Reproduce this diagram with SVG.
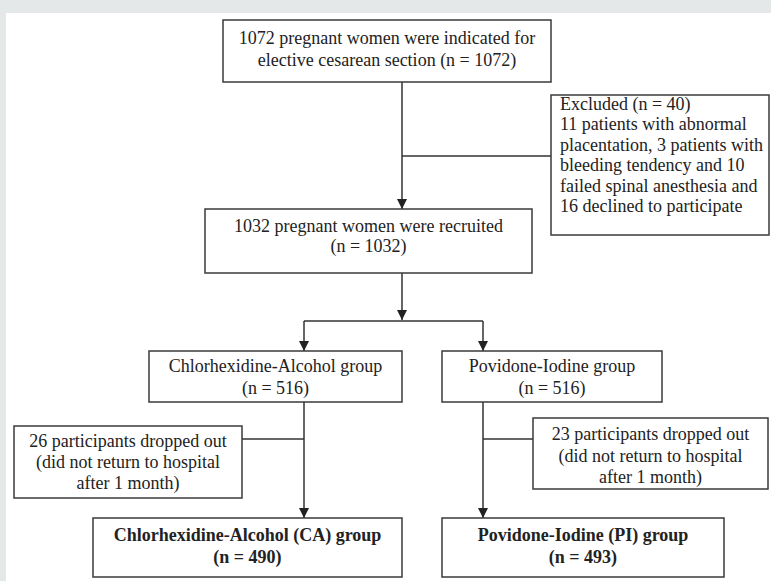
<svg xmlns="http://www.w3.org/2000/svg" width="771" height="581" viewBox="0 0 771 581">
<style>
.box{fill:#fff;stroke:#3a3a3a;stroke-width:1.5}
.t{font-family:"Liberation Serif","Times New Roman",serif;font-size:18px;fill:#222}
.c{text-anchor:middle}
.b{font-weight:bold}
.ln{fill:none;stroke:#333;stroke-width:1.5}
</style>
<defs>
<marker id="ah" markerUnits="userSpaceOnUse" markerWidth="10" markerHeight="10" viewBox="0 0 10 10" refX="10" refY="5" orient="auto">
<path d="M0,0 L10,5 L0,10 Z" fill="#222"/>
</marker>
</defs>
<rect x="0" y="0" width="771" height="581" fill="#e4e8e9"/>
<rect x="6" y="13" width="765" height="568" fill="#fff"/>
<g id="connectors">
<line class="ln" x1="402" y1="82" x2="402" y2="209" marker-end="url(#ah)"/>
<line class="ln" x1="402" y1="156" x2="551" y2="156"/>
<line class="ln" x1="402" y1="273" x2="402" y2="320" marker-end="url(#ah)"/>
<line class="ln" x1="304" y1="321" x2="483" y2="321"/>
<line class="ln" x1="304" y1="321" x2="304" y2="351" marker-end="url(#ah)"/>
<line class="ln" x1="483" y1="321" x2="483" y2="351" marker-end="url(#ah)"/>
<line class="ln" x1="304" y1="402" x2="304" y2="518" marker-end="url(#ah)"/>
<line class="ln" x1="242" y1="439" x2="304" y2="439"/>
<line class="ln" x1="483" y1="402" x2="483" y2="518" marker-end="url(#ah)"/>
<line class="ln" x1="483" y1="439" x2="533" y2="439"/>
</g>
<g id="n1">
<rect class="box" x="223" y="20" width="328" height="62"/>
<text class="t c" x="387" y="44">1072 pregnant women were indicated for</text>
<text class="t c" x="387" y="66">elective cesarean section (n = 1072)</text>
</g>
<g id="excluded">
<rect class="box" x="551" y="95" width="218" height="140"/>
<text class="t" x="560" y="110">Excluded (n = 40)</text>
<text class="t" x="560" y="130">11 patients with abnormal</text>
<text class="t" x="560" y="150.5">placentation, 3 patients with</text>
<text class="t" x="560" y="171">bleeding tendency and 10</text>
<text class="t" x="560" y="191.5">failed spinal anesthesia and</text>
<text class="t" x="560" y="212">16 declined to participate</text>
</g>
<g id="n2">
<rect class="box" x="205" y="209" width="327" height="64"/>
<text class="t c" x="368.5" y="232">1032 pregnant women were recruited</text>
<text class="t c" x="368.5" y="252">(n = 1032)</text>
</g>
<g id="ca">
<rect class="box" x="149" y="351" width="253" height="51"/>
<text class="t c" x="275.5" y="372">Chlorhexidine-Alcohol group</text>
<text class="t c" x="275.5" y="394">(n = 516)</text>
</g>
<g id="pi">
<rect class="box" x="442" y="351" width="220" height="51"/>
<text class="t c" x="552" y="372">Povidone-Iodine group</text>
<text class="t c" x="552" y="394">(n = 516)</text>
</g>
<g id="drop-ca">
<rect class="box" x="14" y="426" width="228" height="72"/>
<text class="t c" x="128" y="447">26 participants dropped out</text>
<text class="t c" x="128" y="468">(did not return to hospital</text>
<text class="t c" x="128" y="489">after 1 month)</text>
</g>
<g id="drop-pi">
<rect class="box" x="533" y="418" width="235" height="71"/>
<text class="t c" x="650.5" y="440">23 participants dropped out</text>
<text class="t c" x="650.5" y="462">(did not return to hospital</text>
<text class="t c" x="650.5" y="483">after 1 month)</text>
</g>
<g id="ca-final">
<rect class="box" x="93" y="518" width="309" height="59"/>
<text class="t c b" x="247.5" y="541">Chlorhexidine-Alcohol (CA) group</text>
<text class="t c b" x="247.5" y="563">(n = 490)</text>
</g>
<g id="pi-final">
<rect class="box" x="442" y="518" width="282" height="59"/>
<text class="t c b" x="583" y="541">Povidone-Iodine (PI) group</text>
<text class="t c b" x="583" y="563">(n = 493)</text>
</g>
</svg>
